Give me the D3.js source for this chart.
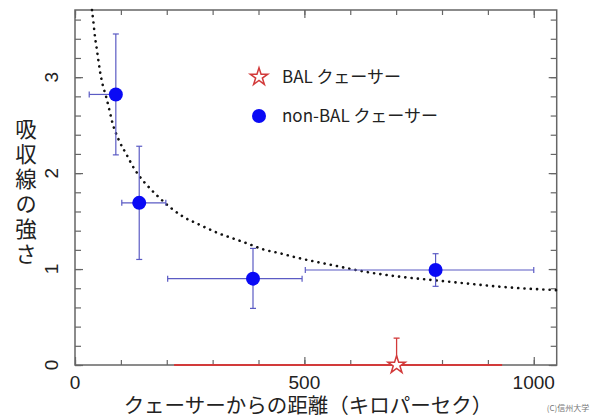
<!DOCTYPE html>
<html>
<head>
<meta charset="utf-8">
<script src="https://cdn.jsdelivr.net/npm/d3@7"></script>
<style>
    body { margin: 0; background: #fff; }
    text { font-family: "Noto Sans CJK JP", "Noto Sans", sans-serif; fill: #222; }
    text.lat { font-family: "Liberation Sans", "Noto Sans CJK JP", sans-serif; }
</style>
</head>
<body>
<script>
// non-BAL quasars: distance (kpc) and absorption strength with errors
var nonBalX = [89, 140, 388, 786];
var nonBalY = [2.82, 1.69, 0.90, 0.99];
var nonBalXLo = [31, 102, 202, 502];
var nonBalXHi = [98, 198, 495, 1000];
var nonBalYLo = [2.19, 1.10, 0.59, 0.82];
var nonBalYHi = [3.45, 2.28, 1.215, 1.16];

// BAL quasar
var balX = [701];
var balY = [0];
var balXLo = [216];
var balXHi = [931];
var balYHi = [0.28];

// dotted fit curve
var fitX = [37, 40, 43.6, 47.3, 50.8, 54.5, 60.4, 67.6, 74.8, 81.3, 95,
    112.7, 128.6, 140.2, 163.5, 178, 205.6, 236, 272.5, 309, 338, 374,
    410.5, 447, 483, 562, 635, 708, 780, 853, 926, 1050];
var fitY = [3.70, 3.58, 3.42, 3.30, 3.18, 3.06, 2.92, 2.80, 2.66, 2.53, 2.35,
    2.19, 2.05, 1.97, 1.84, 1.77, 1.65, 1.545, 1.46, 1.38, 1.33, 1.27,
    1.205, 1.164, 1.12, 1.04, 0.97, 0.92, 0.885, 0.85, 0.816, 0.78];

var xMajor = [0, 500, 1000];
var yMajor = [0, 1, 2, 3];

var W = 599, H = 418;
var x = d3.scaleLinear().domain([0, 1050]).range([75, 556.7]);
var y = d3.scaleLinear().domain([0, 3.7]).range([365, 10]);

var svg = d3.select("body").append("svg")
    .attr("width", W)
    .attr("height", H);

var axisColor = "#666";

//Minor and major ticks on all four sides, pointing inward
var xMinor = d3.range(0, 1051, 100);
var yMinorT = d3.range(0, 3.7, 0.2);

function tickAxis(gen, scale, vals, size, transform) {
    var g = svg.append("g")
        .attr("transform", transform)
        .call(gen(scale).tickValues(vals).tickSize(size)
            .tickSizeOuter(0).tickFormat(""));
    g.select(".domain").remove();
    g.selectAll("line").attr("stroke", axisColor).attr("stroke-width", 1.2);
}
tickAxis(d3.axisBottom, x, xMinor, -5, "translate(0,365)");
tickAxis(d3.axisBottom, x, xMajor, -8, "translate(0,365)");
tickAxis(d3.axisTop, x, xMinor, -5, "translate(0,10)");
tickAxis(d3.axisTop, x, xMajor, -8, "translate(0,10)");
tickAxis(d3.axisLeft, y, yMinorT, -6, "translate(75,0)");
tickAxis(d3.axisLeft, y, yMajor, -8, "translate(75,0)");
tickAxis(d3.axisRight, y, yMinorT, -6, "translate(556.7,0)");
tickAxis(d3.axisRight, y, yMajor, -8, "translate(556.7,0)");

//Frame
svg.append("rect")
    .attr("x", x(0)).attr("y", y(3.7))
    .attr("width", x(1050) - x(0)).attr("height", y(0) - y(3.7))
    .attr("fill", "none")
    .attr("stroke", axisColor)
    .attr("stroke-width", 1.5);

//Tick labels
svg.selectAll(".xlab").data(xMajor).enter().append("text")
    .attr("class", "lat")
    .attr("x", function(d) { return x(d); })
    .attr("y", 389)
    .attr("text-anchor", "middle")
    .style("font-size", "19px")
    .text(function(d) { return d; });

svg.selectAll(".ylab").data(yMajor).enter().append("text")
    .attr("class", "lat")
    .attr("transform", function(d) {
        return "translate(58," + y(d) + ") rotate(-90)";
    })
    .attr("text-anchor", "middle")
    .style("font-size", "19px")
    .text(function(d) { return d; });

//Axis titles
svg.append("text")
    .attr("class", "lat")
    .attr("x", 308).attr("y", 413)
    .attr("text-anchor", "middle")
    .style("font-size", "20.5px")
    .text("クェーサーからの距離（キロパーセク）");

svg.append("text")
    .attr("x", 26).attr("y", 118)
    .style("writing-mode", "vertical-rl")
    .style("text-orientation", "upright")
    .style("letter-spacing", "3.5px")
    .style("font-size", "21.5px")
    .text("吸収線の強さ");

svg.append("text")
    .attr("x", 568).attr("y", 411)
    .attr("text-anchor", "middle")
    .style("font-size", "8px")
    .style("fill", "#777")
    .text("(C)信州大学");

//Dotted fit curve
var fit = fitX.map(function(d, i) { return [d, fitY[i]]; });
svg.append("path")
    .datum(fit)
    .attr("fill", "none")
    .attr("stroke", "#111")
    .attr("stroke-width", 2.6)
    .attr("stroke-linecap", "round")
    .attr("stroke-dasharray", "0.1,6.2")
    .attr("d", d3.line()
        .x(function(d) { return x(d[0]); })
        .y(function(d) { return y(d[1]); })
        .curve(d3.curveMonotoneX));

//Error bars for non-BAL
var errColor = "#5b5bc4";
var cap = 3;
var eb = svg.append("g")
    .attr("stroke", errColor)
    .attr("stroke-width", 1.2);
nonBalX.forEach(function(d, i) {
    var cx = x(d), cy = y(nonBalY[i]);
    eb.append("line")
        .attr("x1", x(nonBalXLo[i])).attr("x2", x(nonBalXHi[i]))
        .attr("y1", cy).attr("y2", cy);
    eb.append("line")
        .attr("x1", cx).attr("x2", cx)
        .attr("y1", y(nonBalYLo[i])).attr("y2", y(nonBalYHi[i]));
    [nonBalXLo[i], nonBalXHi[i]].forEach(function(v) {
        eb.append("line")
            .attr("x1", x(v)).attr("x2", x(v))
            .attr("y1", cy - cap).attr("y2", cy + cap);
    });
    [nonBalYLo[i], nonBalYHi[i]].forEach(function(v) {
        eb.append("line")
            .attr("x1", cx - cap).attr("x2", cx + cap)
            .attr("y1", y(v)).attr("y2", y(v));
    });
});

svg.selectAll(".pt").data(nonBalX).enter().append("circle")
    .attr("cx", function(d) { return x(d); })
    .attr("cy", function(d, i) { return y(nonBalY[i]); })
    .attr("r", 7)
    .attr("fill", "#0a0af5");

//BAL quasar: red bars and hollow star
var red = "#d23a3a";
balX.forEach(function(d, i) {
    svg.append("line")
        .attr("x1", x(balXLo[i])).attr("x2", x(balXHi[i]))
        .attr("y1", y(balY[i])).attr("y2", y(balY[i]))
        .attr("stroke", red).attr("stroke-width", 2);
    svg.append("line")
        .attr("x1", x(d)).attr("x2", x(d))
        .attr("y1", y(balY[i])).attr("y2", y(balYHi[i]))
        .attr("stroke", red).attr("stroke-width", 1.3);
    svg.append("line")
        .attr("x1", x(d) - cap).attr("x2", x(d) + cap)
        .attr("y1", y(balYHi[i])).attr("y2", y(balYHi[i]))
        .attr("stroke", red).attr("stroke-width", 1.3);
});

var star = d3.symbol().type(d3.symbolStar).size(95);
svg.selectAll(".star").data(balX).enter().append("path")
    .attr("d", star)
    .attr("transform", function(d, i) {
        return "translate(" + x(d) + "," + y(balY[i]) + ")";
    })
    .attr("fill", "#fff")
    .attr("stroke", red)
    .attr("stroke-width", 1.5);

//Legend
var leg = svg.append("g");
leg.append("path")
    .attr("d", star)
    .attr("transform", "translate(259,77)")
    .attr("fill", "#fff")
    .attr("stroke", red)
    .attr("stroke-width", 1.5);
leg.append("text")
    .attr("x", 282).attr("y", 83)
    .style("font-size", "17px")
    .text("BAL クェーサー");
leg.append("circle")
    .attr("cx", 259).attr("cy", 116)
    .attr("r", 7)
    .attr("fill", "#0a0af5");
leg.append("text")
    .attr("x", 282).attr("y", 122)
    .style("font-size", "17px")
    .text("non-BAL クェーサー");
</script>
</body>
</html>
